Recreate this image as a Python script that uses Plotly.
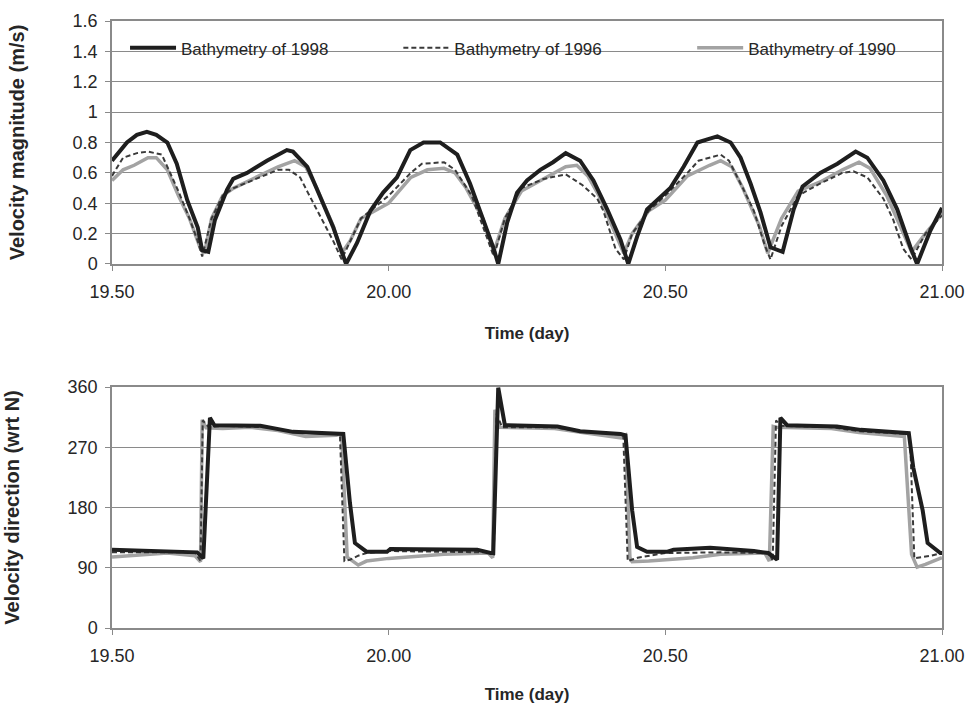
import plotly.graph_objects as go

# ---------------- data ----------------
# Velocity magnitude (m/s)
t_mag_1998 = [19.500, 19.527, 19.545, 19.563, 19.580, 19.600, 19.617, 19.636, 19.655, 19.663,
              19.674, 19.686, 19.708, 19.719, 19.744, 19.780, 19.816, 19.827, 19.853, 19.876,
              19.900, 19.923, 19.943, 19.967, 19.990, 20.015, 20.039, 20.063, 20.093, 20.124,
              20.147, 20.171, 20.189, 20.198, 20.214, 20.232, 20.250, 20.274, 20.297, 20.320,
              20.346, 20.370, 20.395, 20.419, 20.433, 20.449, 20.467, 20.485, 20.509, 20.533,
              20.558, 20.576, 20.594, 20.618, 20.636, 20.654, 20.672, 20.690, 20.712, 20.732,
              20.748, 20.780, 20.811, 20.844, 20.865, 20.894, 20.919, 20.943, 20.955, 20.979,
              21.000]
mag_1998 = [0.68, 0.80, 0.85, 0.87, 0.85, 0.80, 0.66, 0.42, 0.24, 0.09,
            0.08, 0.29, 0.49, 0.56, 0.60, 0.68, 0.75, 0.74, 0.64, 0.44,
            0.24, 0.00, 0.14, 0.35, 0.47, 0.57, 0.75, 0.80, 0.80, 0.72,
            0.53, 0.29, 0.11, 0.00, 0.27, 0.47, 0.55, 0.62, 0.67, 0.73,
            0.68, 0.55, 0.36, 0.16, 0.00, 0.18, 0.36, 0.42, 0.50, 0.64,
            0.80, 0.82, 0.84, 0.80, 0.70, 0.53, 0.34, 0.11, 0.08, 0.36,
            0.51, 0.60, 0.66, 0.74, 0.70, 0.55, 0.36, 0.11, 0.00, 0.22,
            0.37]

t_mag_1996 = [19.500, 19.520, 19.545, 19.565, 19.590, 19.605, 19.620, 19.640, 19.655, 19.663,
              19.680, 19.700, 19.720, 19.760, 19.800, 19.820, 19.840, 19.854, 19.880, 19.900,
              19.915, 19.930, 19.950, 20.000, 20.040, 20.060, 20.100, 20.120, 20.150, 20.170,
              20.190, 20.210, 20.240, 20.280, 20.320, 20.350, 20.377, 20.388, 20.410, 20.425,
              20.440, 20.470, 20.500, 20.540, 20.560, 20.600, 20.615, 20.640, 20.660, 20.680,
              20.690, 20.710, 20.740, 20.780, 20.820, 20.840, 20.865, 20.894, 20.912, 20.930,
              20.945, 20.970, 21.000]
mag_1996 = [0.58, 0.70, 0.73, 0.74, 0.72, 0.60, 0.48, 0.30, 0.15, 0.05,
            0.30, 0.45, 0.50, 0.56, 0.62, 0.62, 0.57, 0.47, 0.29, 0.15,
            0.03, 0.15, 0.30, 0.45, 0.60, 0.66, 0.67, 0.62, 0.45, 0.25,
            0.05, 0.30, 0.50, 0.56, 0.59, 0.52, 0.43, 0.35, 0.10, 0.03,
            0.20, 0.35, 0.45, 0.60, 0.68, 0.72, 0.68, 0.50, 0.35, 0.12,
            0.03, 0.25, 0.45, 0.53, 0.60, 0.61, 0.57, 0.43, 0.29, 0.10,
            0.03, 0.20, 0.32]

t_mag_1990 = [19.500, 19.520, 19.540, 19.565, 19.580, 19.600, 19.620, 19.640, 19.660, 19.667,
              19.680, 19.700, 19.720, 19.760, 19.800, 19.830, 19.850, 19.870, 19.900, 19.915,
              19.930, 19.950, 20.000, 20.040, 20.070, 20.100, 20.120, 20.140, 20.170, 20.190,
              20.210, 20.240, 20.280, 20.320, 20.340, 20.360, 20.380, 20.410, 20.425, 20.440,
              20.470, 20.500, 20.540, 20.580, 20.600, 20.620, 20.640, 20.670, 20.685, 20.710,
              20.740, 20.780, 20.820, 20.850, 20.870, 20.900, 20.930, 20.945, 20.970, 21.000]
mag_1990 = [0.55, 0.62, 0.65, 0.70, 0.70, 0.62, 0.45, 0.30, 0.10, 0.07,
            0.30, 0.45, 0.50, 0.57, 0.64, 0.68, 0.64, 0.50, 0.25, 0.07,
            0.15, 0.30, 0.40, 0.57, 0.62, 0.63, 0.60, 0.50, 0.30, 0.08,
            0.30, 0.48, 0.56, 0.64, 0.65, 0.58, 0.45, 0.20, 0.07, 0.20,
            0.35, 0.42, 0.58, 0.65, 0.68, 0.64, 0.50, 0.25, 0.07, 0.30,
            0.48, 0.54, 0.62, 0.67, 0.63, 0.45, 0.20, 0.08, 0.20, 0.33]

# Velocity direction (degrees wrt N)
t_dir_1998 = [19.500, 19.654, 19.665, 19.677, 19.685, 19.768, 19.827, 19.907, 19.918, 19.930,
              19.939, 19.960, 19.997, 20.003, 20.160, 20.184, 20.189, 20.198, 20.210, 20.305,
              20.346, 20.419, 20.428, 20.440, 20.449, 20.467, 20.504, 20.515, 20.581, 20.660,
              20.686, 20.702, 20.708, 20.720, 20.810, 20.853, 20.940, 20.948, 20.965, 20.974,
              20.997, 21.000]
dir_1998 = [117, 113, 104, 314, 303, 302, 293, 291, 290, 187,
            127, 114, 114, 118, 117, 112, 112, 359, 303, 301,
            294, 290, 288, 176, 121, 114, 114, 117, 120, 115,
            112, 102, 314, 303, 301, 296, 291, 240, 176, 127,
            112, 112]

t_dir_1996 = [19.500, 19.650, 19.660, 19.664, 19.675, 19.700, 19.780, 19.830, 19.905, 19.912,
              19.920, 19.930, 19.945, 19.960, 20.000, 20.180, 20.190, 20.195, 20.205, 20.300,
              20.350, 20.418, 20.424, 20.432, 20.450, 20.500, 20.600, 20.688, 20.694, 20.700,
              20.710, 20.800, 20.850, 20.935, 20.942, 20.950, 20.965, 20.980, 21.000]
dir_1996 = [113, 113, 100, 310, 300, 302, 300, 293, 290, 288,
            100, 102, 108, 112, 115, 113, 110, 320, 300, 300,
            293, 289, 287, 100, 105, 112, 113, 112, 100, 310,
            302, 300, 294, 290, 288, 104, 106, 108, 112]

t_dir_1990 = [19.500, 19.600, 19.650, 19.660, 19.663, 19.670, 19.700, 19.750, 19.800, 19.850,
              19.905, 19.915, 19.925, 19.935, 19.945, 19.960, 20.000, 20.100, 20.180, 20.188,
              20.192, 20.200, 20.300, 20.350, 20.420, 20.428, 20.436, 20.440, 20.470, 20.550,
              20.600, 20.680, 20.688, 20.695, 20.700, 20.800, 20.850, 20.932, 20.945, 20.955,
              20.970, 21.000]
dir_1990 = [106, 112, 108, 99, 311, 299, 298, 300, 295, 286,
            288, 290, 106, 100, 94, 100, 104, 110, 112, 105,
            326, 300, 298, 292, 284, 288, 105, 99, 100, 105,
            110, 112, 100, 301, 300, 298, 292, 286, 110, 91,
            95, 105]

series_names = ["Bathymetry of 1998", "Bathymetry of 1996", "Bathymetry of 1990"]
x_tickvals = [19.5, 20.0, 20.5, 21.0]
x_ticktext = ["19.50", "20.00", "20.50", "21.00"]
mag_ticks = [0, 0.2, 0.4, 0.6, 0.8, 1, 1.2, 1.4, 1.6]
dir_ticks = [0, 90, 180, 270, 360]

# ---------------- styling ----------------
FONT = "Liberation Sans, Arial, sans-serif"
style_1998 = dict(color="#1e1e1e", width=4)
style_1996 = dict(color="#3a3a3a", width=2, dash="5px,3px")
style_1990 = dict(color="#a3a3a3", width=3.5)

fig = go.Figure()

# top panel (light gray first so dark lines stay on top)
fig.add_trace(go.Scatter(x=t_mag_1990, y=mag_1990, mode="lines", name=series_names[2],
                         line=style_1990, xaxis="x", yaxis="y", legend="legend3"))
fig.add_trace(go.Scatter(x=t_mag_1996, y=mag_1996, mode="lines", name=series_names[1],
                         line=style_1996, xaxis="x", yaxis="y", legend="legend2"))
fig.add_trace(go.Scatter(x=t_mag_1998, y=mag_1998, mode="lines", name=series_names[0],
                         line=style_1998, xaxis="x", yaxis="y", legend="legend"))

# bottom panel
fig.add_trace(go.Scatter(x=t_dir_1990, y=dir_1990, mode="lines", name=series_names[2],
                         line=style_1990, xaxis="x2", yaxis="y2", showlegend=False))
fig.add_trace(go.Scatter(x=t_dir_1996, y=dir_1996, mode="lines", name=series_names[1],
                         line=style_1996, xaxis="x2", yaxis="y2", showlegend=False))
fig.add_trace(go.Scatter(x=t_dir_1998, y=dir_1998, mode="lines", name=series_names[0],
                         line=style_1998, xaxis="x2", yaxis="y2", showlegend=False))

tickfont = dict(family=FONT, size=18, color="#262626")
titlefont = dict(family=FONT, size=17, color="#262626", weight="bold")
ytitlefont = dict(family=FONT, size=20, color="#262626", weight="bold")

xaxis_common = dict(
    range=[19.5, 21.0], tickmode="array", tickvals=x_tickvals, ticktext=x_ticktext,
    showgrid=False, zeroline=False, showline=True, linecolor="#8a8a8a", linewidth=1.5,
    mirror=True, ticks="outside", ticklen=5, tickcolor="#8a8a8a", tickwidth=1.2,
    tickfont=tickfont, ticklabelstandoff=6, automargin=False,
)
yaxis_common = dict(
    showgrid=True, gridcolor="#8a8a8a", gridwidth=1.3, zeroline=False,
    showline=True, linecolor="#8a8a8a", linewidth=1.5, mirror=True,
    ticks="outside", ticklen=5, tickcolor="#8a8a8a", tickwidth=1.2,
    tickfont=tickfont, ticklabelstandoff=4,
)

legend_common = dict(orientation="h", bgcolor="rgba(0,0,0,0)", borderwidth=0,
                     font=dict(family=FONT, size=17, color="#262626"),
                     xanchor="left", yanchor="middle", y=0.955, itemwidth=46)

fig.update_layout(
    width=971, height=711,
    margin=dict(l=112, r=29, t=21, b=83),
    paper_bgcolor="white", plot_bgcolor="white",
    xaxis=dict(domain=[0, 1], anchor="y",
               title=dict(text="Time (day)", font=titlefont, standoff=26), **xaxis_common),
    yaxis=dict(domain=[0.5997, 1], anchor="x", range=[0, 1.6], tickmode="array",
               tickvals=mag_ticks, title=dict(text="Velocity magnitude (m/s)", font=ytitlefont,
                                             standoff=43), **yaxis_common),
    xaxis2=dict(domain=[0, 1], anchor="y2",
                title=dict(text="Time (day)", font=titlefont, standoff=23), **xaxis_common),
    yaxis2=dict(domain=[0, 0.397], anchor="x2", range=[0, 360], tickmode="array",
                tickvals=dir_ticks, title=dict(text="Velocity direction (wrt N)", font=ytitlefont,
                                              standoff=43), **yaxis_common),
    legend=dict(x=0.0157, **legend_common),
    legend2=dict(x=0.345, **legend_common),
    legend3=dict(x=0.699, **legend_common),
)

fig.write_html("out.html", config={"displayModeBar": False},
               post_script="document.body.style.margin='0px';document.body.style.overflow='hidden';")
